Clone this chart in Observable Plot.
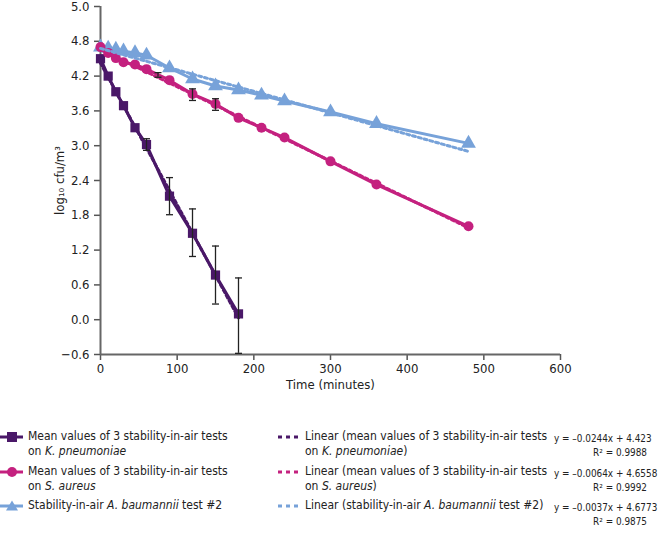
<!DOCTYPE html>
<html><head><meta charset="utf-8">
<script src="https://cdn.jsdelivr.net/npm/d3@7"></script>
<script src="https://cdn.jsdelivr.net/npm/@observablehq/plot@0.6"></script>
<style>
body{margin:0;background:#fff;font-family:"DejaVu Sans Condensed","DejaVu Sans",sans-serif;font-stretch:condensed;}
#chart{position:relative;width:661px;height:534px;overflow:hidden;}
.leg{position:absolute;font-size:12px;line-height:15px;color:#222;white-space:nowrap;}
.eq{position:absolute;font-size:9.9px;line-height:14px;color:#222;white-space:nowrap;}
.sw{position:absolute;}
</style></head><body><div id="chart"></div>
<script>
// K. pneumoniae
const kpTime=[0,10,20,30,45,60,90,120,150,180];
const kpMean=[4.5,4.2,3.93,3.69,3.31,3.02,2.13,1.49,0.77,0.1];
const kpErrTime=[60,90,120,150,180];
const kpErrMean=[3.02,2.13,1.5,0.77,0.07];
const kpErr=[0.1,0.32,0.41,0.5,0.65];
// S. aureus
const saTime=[0,10,20,30,45,60,90,120,150,180,210,240,300,360,480];
const saMean=[4.7,4.6,4.51,4.44,4.4,4.32,4.13,3.89,3.72,3.48,3.31,3.14,2.73,2.33,1.61];
const saErrTime=[75,120,150];
const saErrMean=[4.22,3.88,3.71];
const saErr=[0.04,0.1,0.1];
// A. baumannii
const abTime=[0,10,20,30,45,60,90,120,150,180,210,240,300,360,480];
const abMean=[4.7,4.68,4.66,4.63,4.6,4.56,4.34,4.15,4.03,3.96,3.87,3.77,3.58,3.38,3.04];
// Trend lines (from the chart's equations)
const fitSlope=[-0.0244,-0.0064,-0.0037];
const fitIntercept=["4.423","4.6558","4.6773"];
const fitR2=["0.9988","0.9992","0.9875"];
const fitEnd=[180,480,480];
// Axis ticks
const xTicks=[0,100,200,300,400,500,600];
const yTicks=[-0.6,0,0.6,1.2,1.8,2.4,3.0,3.6,4.2,4.8,5.4];
const yTickLabels=["\u22120.6","0.0","0.6","1.2","1.8","2.4","3.0","3.6","4.2","4.8","5.0"];
const colors=["#4a1868","#c4217f","#77a2d9"];

const font='"DejaVu Sans Condensed","DejaVu Sans",sans-serif';
const kp=kpTime.map((t,i)=>({t,v:kpMean[i]}));
const sa=saTime.map((t,i)=>({t,v:saMean[i]}));
const ab=abTime.map((t,i)=>({t,v:abMean[i]}));
const errs=[
  ...kpErrTime.map((t,i)=>({t,m:kpErrMean[i],e:kpErr[i]})),
  ...saErrTime.map((t,i)=>({t,m:saErrMean[i],e:saErr[i]}))
];
const fits=[];
fitSlope.forEach((s,i)=>{
  const b=+fitIntercept[i];
  fits.push({k:i,t:0,v:b});
  fits.push({k:i,t:fitEnd[i],v:b+s*fitEnd[i]});
});
const yLabelMap=new Map(yTicks.map((d,i)=>[d,yTickLabels[i]]));
const capSymbol={draw(ctx,size){const r=3.5;ctx.moveTo(-r,0);ctx.lineTo(r,0);}};

const plot=Plot.plot({
  width:661,height:401,marginLeft:100,marginRight:101,marginTop:6,marginBottom:47,
  x:{domain:[0,600]},
  y:{domain:[-0.6,5.4]},
  style:{fontFamily:font,fontSize:"13px",color:"#222",background:"transparent"},
  marks:[
    Plot.axisY({ticks:yTicks,tickFormat:d=>yLabelMap.get(d),tickSize:6,tickPadding:5,stroke:"#555",strokeWidth:1.5,
      label:"log\u2081\u2080 cfu/m\u00b3",labelAnchor:"center",labelArrow:false,labelOffset:46,fontSize:13}),
    Plot.axisX({ticks:xTicks,tickSize:6,tickPadding:3,stroke:"#555",strokeWidth:1.5,
      label:"Time (minutes)",labelAnchor:"center",labelArrow:false,labelOffset:34,fontSize:13}),
    Plot.ruleX([0],{stroke:"#666",strokeWidth:2}),
    Plot.ruleY([-0.6],{stroke:"#666",strokeWidth:2}),
    Plot.line(kp,{x:"t",y:"v",stroke:colors[0],strokeWidth:3}),
    Plot.line(sa,{x:"t",y:"v",stroke:colors[1],strokeWidth:3}),
    Plot.line(ab,{x:"t",y:"v",stroke:colors[2],strokeWidth:3}),
    Plot.dot(ab,{x:"t",y:"v",symbol:"triangle",r:5.5,fill:colors[2]}),
    Plot.dot(kp,{x:"t",y:"v",symbol:"square",r:5.2,fill:colors[0]}),
    Plot.dot(sa,{x:"t",y:"v",symbol:"circle",r:5,fill:colors[1]}),
    Plot.line(fits,{x:"t",y:"v",z:"k",stroke:d=>colors[d.k],strokeWidth:3,strokeDasharray:"3,3"}),
    Plot.ruleX(errs,{x:"t",y1:d=>d.m-d.e,y2:d=>d.m+d.e,stroke:"#222",strokeWidth:1.3}),
    Plot.dot(errs,{x:"t",y:d=>d.m-d.e,symbol:capSymbol,stroke:"#222",strokeWidth:1.3,fill:"none"}),
    Plot.dot(errs,{x:"t",y:d=>d.m+d.e,symbol:capSymbol,stroke:"#222",strokeWidth:1.3,fill:"none"})
  ]
});
plot.style.position="absolute";plot.style.left="0";plot.style.top="0";
const chart=document.getElementById("chart");
chart.appendChild(plot);

// Legend
const rows=[
  {top:429,c1:"Mean values of 3 stability-in-air tests<br>on <i>K. pneumoniae</i>",
   c2:"Linear (mean values of 3 stability-in-air tests<br>on <i>K. pneumoniae</i>)",sym:"square"},
  {top:464,c1:"Mean values of 3 stability-in-air tests<br>on <i>S. aureus</i>",
   c2:"Linear (mean values of 3 stability-in-air tests<br>on <i>S. aureus</i>)",sym:"circle"},
  {top:498,c1:"Stability-in-air <i>A. baumannii</i> test #2",
   c2:"Linear (stability-in-air <i>A. baumannii</i> test #2)",sym:"triangle"}
];
rows.forEach((r,i)=>{
  const c=colors[i];
  let m="";
  if(r.sym==="square") m=`<rect x="7" y="3" width="10" height="10" fill="${c}"/>`;
  else if(r.sym==="circle") m=`<circle cx="12" cy="8" r="5" fill="${c}"/>`;
  else m=`<path d="M12,2.5L18,12.5L6,12.5Z" fill="${c}"/>`;
  const s1=document.createElement("div");s1.className="sw";s1.style.left="0px";s1.style.top=r.top+"px";
  s1.innerHTML=`<svg width="26" height="16"><line x1="0" y1="8" x2="23" y2="8" stroke="${c}" stroke-width="3"/>${m}</svg>`;
  chart.appendChild(s1);
  const t1=document.createElement("div");t1.className="leg";t1.style.left="28px";t1.style.top=r.top+"px";t1.innerHTML=r.c1;chart.appendChild(t1);
  const s2=document.createElement("div");s2.className="sw";s2.style.left="278px";s2.style.top=r.top+"px";
  s2.innerHTML=`<svg width="26" height="16"><line x1="0" y1="8" x2="22" y2="8" stroke="${c}" stroke-width="3" stroke-dasharray="4,4"/></svg>`;
  chart.appendChild(s2);
  const t2=document.createElement("div");t2.className="leg";t2.style.left="305px";t2.style.top=r.top+"px";t2.innerHTML=r.c2;chart.appendChild(t2);
  const sign=fitSlope[i]<0?"\u2013":"+";
  const eq1=document.createElement("div");eq1.className="eq";eq1.style.left="554px";eq1.style.top=(r.top+3)+"px";
  eq1.textContent=`y = ${sign}${Math.abs(fitSlope[i])}x + ${fitIntercept[i]}`;
  chart.appendChild(eq1);
  const eq2=document.createElement("div");eq2.className="eq";eq2.style.right="14px";eq2.style.top=(r.top+17)+"px";
  eq2.textContent=`R\u00b2 = ${fitR2[i]}`;
  chart.appendChild(eq2);
});
</script></body></html>
